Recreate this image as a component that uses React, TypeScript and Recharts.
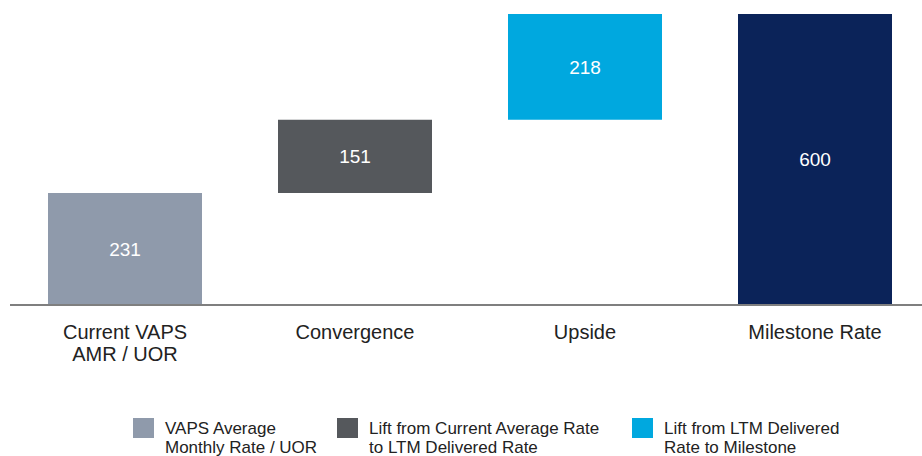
import { BarChart, Bar, XAxis, YAxis, Cell, LabelList } from 'recharts'

const categories = [['Current VAPS', 'AMR / UOR'], ['Convergence'], ['Upside'], ['Milestone Rate']]
const values = [231, 151, 218, 600]
const isTotal = [false, false, false, true]
const colors = ['#8f9aab', '#55585c', '#00a8df', '#0b2359']
const legendItems = [
  { label: ['VAPS Average', 'Monthly Rate / UOR'], color: '#8f9aab' },
  { label: ['Lift from Current Average Rate', 'to LTM Delivered Rate'], color: '#55585c' },
  { label: ['Lift from LTM Delivered', 'Rate to Milestone'], color: '#00a8df' },
]

let running = 0
const data = values.map((v, i) => {
  const base = isTotal[i] ? 0 : running
  if (!isTotal[i]) running += v
  return { name: categories[i].join(' '), base, value: v }
})

const FONT = '"Liberation Sans", Arial, sans-serif'

function CategoryTick(props: any) {
  const { x, y, index } = props
  const lines = categories[index] || []
  return (
    <text x={x} y={y} textAnchor="middle" fill="#222222" fontSize={20} fontFamily={FONT}>
      {lines.map((l, i) => (
        <tspan key={i} x={x} dy={i === 0 ? 26 : 22}>{l}</tspan>
      ))}
    </text>
  )
}

export default function App() {
  return (
    <div style={{ position: 'absolute', left: 0, top: 0, width: 922, height: 456, overflow: 'hidden', background: '#fff', fontFamily: FONT }}>
      <BarChart width={940} height={456} data={data} margin={{ top: 14, right: 10, left: 10, bottom: 111 }}>
        <YAxis hide domain={[0, 600]} />
        <XAxis
          dataKey="name"
          height={40}
          tickLine={false}
          axisLine={{ stroke: '#7f7f7f', strokeWidth: 2 }}
          tick={<CategoryTick />}
          interval={0}
        />
        <Bar dataKey="base" stackId="w" fill="transparent" isAnimationActive={false} barSize={154} />
        <Bar dataKey="value" stackId="w" isAnimationActive={false} barSize={154}>
          {data.map((_, i) => <Cell key={i} fill={colors[i]} />)}
          <LabelList dataKey="value" position="center" fill="#ffffff" fontSize={19} fontFamily={FONT} />
        </Bar>
      </BarChart>
      {legendItems.map((it, i) => (
        <div key={i} style={{ position: 'absolute', top: 418, left: [133, 337, 632][i], display: 'flex', alignItems: 'flex-start' }}>
          <div style={{ width: 21, height: 20, background: it.color, marginRight: 11, flexShrink: 0 }} />
          <div style={{ fontSize: 17, lineHeight: '19px', color: '#222222', marginTop: 1, whiteSpace: 'nowrap' }}>
            {it.label.map((l, j) => <div key={j}>{l}</div>)}
          </div>
        </div>
      ))}
    </div>
  )
}
